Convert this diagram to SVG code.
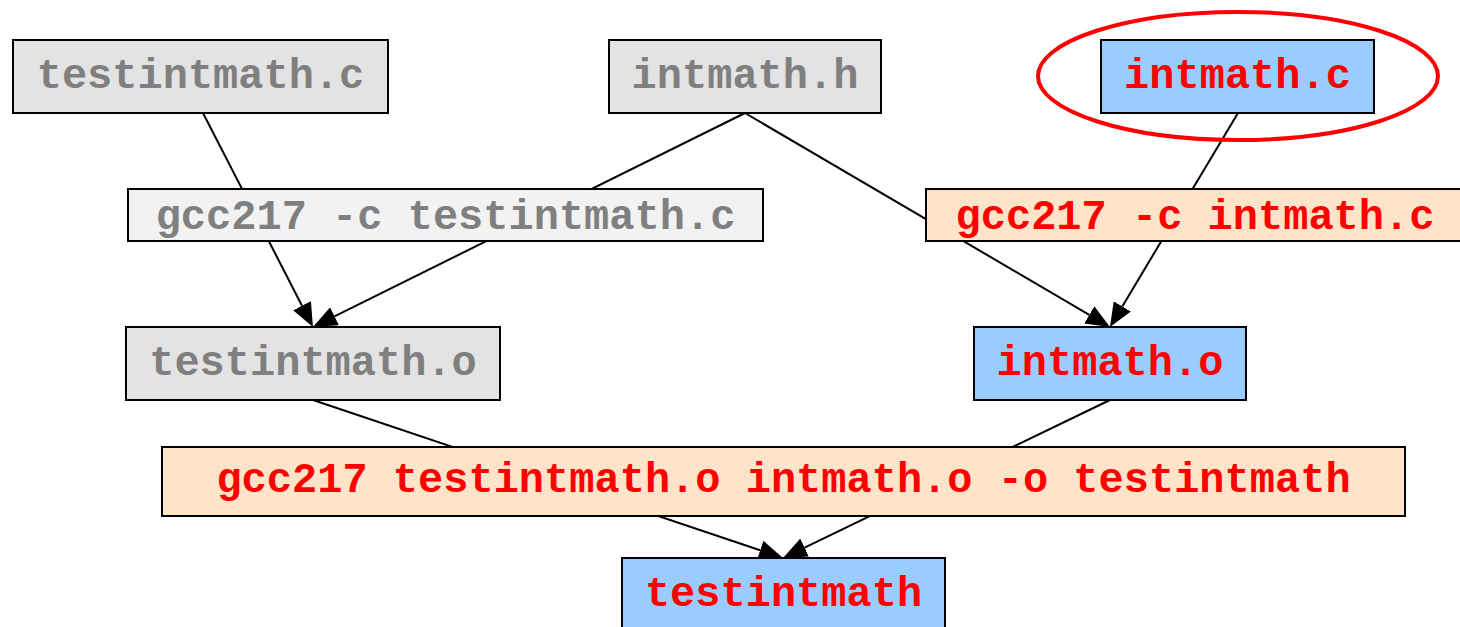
<svg xmlns="http://www.w3.org/2000/svg" width="1460" height="627" viewBox="0 0 1460 627">
<style>
  .box { stroke: #000; stroke-width: 2; }
  .file { fill: #e3e3e3; }
  .cmdg { fill: #f2f2f2; }
  .blue { fill: #99ccff; }
  .cmdr { fill: #ffe4c9; }
  text { font-family: "Liberation Mono", "Courier New", monospace; font-weight: bold; font-size: 42px; text-anchor: middle; }
  .g { fill: #7f7f7f; }
  .r { fill: #ff0000; }
  .edge { fill: none; stroke: #000; stroke-width: 2; marker-end: url(#arr); }
</style>
<defs>
  <marker id="arr" viewBox="0 0 24 20" refX="0" refY="10" markerWidth="24" markerHeight="20" markerUnits="userSpaceOnUse" orient="auto">
    <path d="M0,0 L24,10 L0,20 Z" fill="#000"/>
  </marker>
</defs>
<rect width="1460" height="627" fill="#fff"/>
<g id="connectors">
  <path class="edge" d="M203,113 L302,305.7"/>
  <path class="edge" d="M745,113 L334.5,316.3"/>
  <path class="edge" d="M745,113 L1089.3,314.9"/>
  <path class="edge" d="M1238,113 L1122.3,306.4"/>
  <path class="edge" d="M313,400 L760.2,550.3"/>
  <path class="edge" d="M1110,400 L804.6,547.6"/>
</g>
<g id="n_testintmath_c">
  <rect class="box file" x="13" y="40" width="375" height="73"/>
  <text class="g" x="200.5" y="88">testintmath.c</text>
</g>
<g id="n_intmath_h">
  <rect class="box file" x="609" y="40" width="272" height="73"/>
  <text class="g" x="745" y="88">intmath.h</text>
</g>
<g id="n_intmath_c">
  <rect class="box blue" x="1101" y="40" width="273" height="73"/>
  <text class="r" x="1237.5" y="88">intmath.c</text>
  <ellipse cx="1238" cy="76" rx="200" ry="64" fill="none" stroke="#ff0000" stroke-width="4"/>
</g>
<g id="n_cmd_testintmath">
  <rect class="box cmdg" x="128" y="189" width="635" height="52"/>
  <text class="g" x="445.5" y="229">gcc217 -c testintmath.c</text>
</g>
<g id="n_cmd_intmath">
  <rect class="box cmdr" x="926" y="189" width="538" height="52"/>
  <text class="r" x="1195" y="229">gcc217 -c intmath.c</text>
</g>
<g id="n_testintmath_o">
  <rect class="box file" x="126" y="327" width="374" height="73"/>
  <text class="g" x="313" y="375">testintmath.o</text>
</g>
<g id="n_intmath_o">
  <rect class="box blue" x="974" y="327" width="272" height="73"/>
  <text class="r" x="1110" y="375">intmath.o</text>
</g>
<g id="n_cmd_link">
  <rect class="box cmdr" x="162" y="447" width="1243" height="69"/>
  <text class="r" x="783.5" y="492">gcc217 testintmath.o intmath.o -o testintmath</text>
</g>
<g id="n_testintmath">
  <rect class="box blue" x="622" y="558" width="323" height="80"/>
  <text class="r" x="783.5" y="606">testintmath</text>
</g>
</svg>
